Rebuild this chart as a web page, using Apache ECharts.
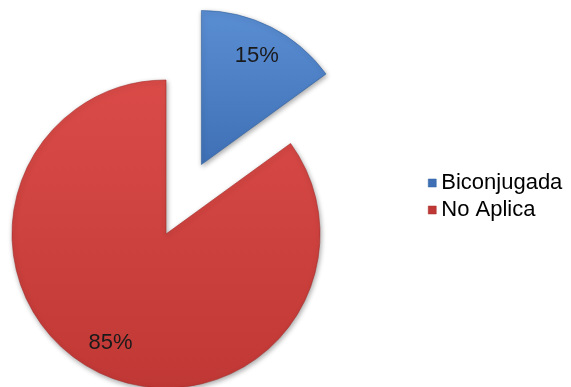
<!DOCTYPE html>
<html>
<head>
<meta charset="utf-8">
<style>
  html, body { margin: 0; padding: 0; background: #ffffff; }
  #chart { width: 571px; height: 387px; }
</style>
<script src="https://cdn.jsdelivr.net/npm/echarts@6/dist/echarts.min.js"></script>
</head>
<body>
<div id="chart"></div>
<script>
// Share of each category
const categories = ['Biconjugada', 'No Aplica'];
const values = [15, 85];
const explodedIndex = 0;

const palette = [
  { top: '#5A8ED3', bottom: '#3F70B6', edge: '#2F5F9E' },
  { top: '#DA4B48', bottom: '#C03835', edge: '#A42C2A' }
];

const CENTER = [166, 234];
const RADIUS = 154;
const OFFSET = 78;

function sliceColor(p) {
  return {
    type: 'linear', x: 0, y: 0, x2: 0, y2: 1,
    colorStops: [
      { offset: 0, color: p.top },
      { offset: 1, color: p.bottom }
    ]
  };
}

const pieData = categories.map((name, i) => ({
  name: name,
  value: values[i],
  selected: i === explodedIndex,
  itemStyle: {
    color: sliceColor(palette[i]),
    borderColor: palette[i].edge,
    borderWidth: 0.6,
    shadowBlur: 5,
    shadowColor: 'rgba(0,0,0,0.35)',
    shadowOffsetX: 1,
    shadowOffsetY: 2
  }
}));

// Transparent ring carrying the percentage labels further out than the slice midpoint
const labelData = categories.map((name, i) => ({
  name: name,
  value: values[i],
  selected: i === explodedIndex,
  itemStyle: { color: 'rgba(0,0,0,0)' }
}));

const chart = echarts.init(document.getElementById('chart'), null, { renderer: 'canvas' });

chart.setOption({
  backgroundColor: '#ffffff',
  animation: false,
  legend: {
    orient: 'vertical',
    left: 428,
    top: 172,
    padding: 0,
    itemWidth: 8,
    itemHeight: 8,
    itemGap: 5,
    icon: 'rect',
    selectedMode: false,
    textStyle: {
      fontFamily: 'Liberation Sans, Arial, sans-serif',
      fontSize: 22,
      lineHeight: 22,
      color: '#000000'
    },
    data: categories.map((name, i) => ({
      name: name,
      itemStyle: { color: palette[i].bottom, borderColor: palette[i].edge, borderWidth: 0.5 }
    }))
  },
  series: [
    {
      type: 'pie',
      center: CENTER,
      radius: RADIUS,
      startAngle: 90,
      clockwise: true,
      selectedMode: 'single',
      selectedOffset: OFFSET,
      silent: true,
      label: { show: false },
      labelLine: { show: false },
      emphasis: { disabled: true },
      data: pieData
    },
    {
      type: 'pie',
      center: CENTER,
      radius: [84, RADIUS],
      startAngle: 90,
      clockwise: true,
      selectedMode: 'single',
      selectedOffset: OFFSET,
      silent: true,
      label: {
        show: true,
        position: 'inside',
        formatter: '{d}%',
        fontFamily: 'Liberation Sans, Arial, sans-serif',
        fontSize: 22,
        color: '#1a1a1a'
      },
      labelLine: { show: false },
      emphasis: { disabled: true },
      data: labelData
    }
  ]
});
</script>
</body>
</html>
